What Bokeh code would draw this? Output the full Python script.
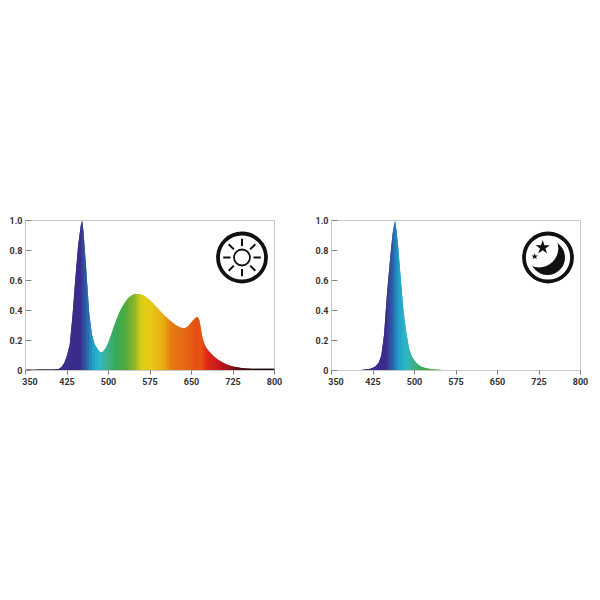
from bokeh.embed import file_html
from bokeh.resources import INLINE
from bokeh.layouts import row
from bokeh.models import FixedTicker, Range1d
from bokeh.plotting import figure
import numpy as np

FONT = "Roboto"

day_nm = [350, 370, 390, 400, 405, 410, 415, 420, 425, 430, 435, 440, 445, 450, 452.5, 455, 460, 465, 470, 475,
          480, 485, 490, 495, 500, 505, 510, 515, 520, 525, 530, 535, 540, 545, 550, 555, 560, 565, 570, 575,
          580, 585, 590, 595, 600, 605, 610, 615, 620, 625, 630, 635, 640, 645, 650, 655, 660, 662, 664, 666,
          668, 670, 673, 676, 680, 685, 690, 695, 700, 705, 710, 715, 720, 725, 730, 735, 740, 750, 760, 780, 800]
day_val = [.007, .007, .007, .007, .008, .010, .024, .05, .10, .175, .37, .61, .83, .97, 1.0, .92, .66, .39, .24, .175,
           .145, .12, .125, .15, .19, .24, .295, .345, .39, .425, .455, .48, .497, .506, .51, .51, .505, .496, .483, .468,
           .45, .43, .41, .39, .37, .353, .337, .322, .307, .295, .287, .282, .285, .30, .322, .344, .356, .352, .335, .30,
           .255, .215, .18, .155, .135, .115, .095, .08, .067, .056, .047, .038, .032, .027, .023, .02, .017, .014, .012, .012, .012]

night_nm = [350, 380, 400, 410, 420, 425, 430, 435, 440, 445, 450, 455, 460, 462.5, 465, 467.5, 470, 475, 480, 485,
            490, 495, 500, 505, 510, 515, 520, 530, 540, 550, 570, 600, 800]
night_val = [0, 0, .002, .006, .012, .018, .03, .05, .10, .24, .50, .71, .90, .96, 1.0, .93, .85, .62, .40, .26,
             .15, .095, .065, .045, .03, .022, .016, .009, .006, .004, .003, .001, 0]

color_nm = [350, 400, 415, 430, 447, 460, 471, 484, 498, 514, 530, 547, 559, 577, 601, 613, 637, 661, 667, 677, 697, 716, 734, 770, 800]
color_hex = ["#2a0a24", "#2a1a50", "#38308e", "#3a2f8e", "#3b2a8a", "#2a5fa8", "#1f9fc8", "#2fb8c8", "#3fb08a", "#3aaa55",
             "#4cab3f", "#8fb52a", "#dccf15", "#e6c915", "#e8a810", "#e57c12", "#e66a14", "#e64c15", "#e65512", "#e02a18",
             "#c81a1c", "#a01518", "#5a1012", "#1f0a10", "#1a0a10"]

x_ticks = [350, 425, 500, 575, 650, 725, 800]
x_labels = {350: "\u00a0\u00a0\u00a0\u00a0350"}
y_ticks = [0.2, 0.4, 0.6, 0.8, 1.0, 0]
y_labels = {0: "0", 0.2: "0.2", 0.4: "0.4", 0.6: "0.6", 0.8: "0.8", 1.0: "1.0"}
X_MIN, X_MAX = 350, 800
FRAME_W, FRAME_H = 249, 150


def spectrum_color(nm):
    rgb = np.array([[int(h[i:i + 2], 16) for i in (1, 3, 5)] for h in color_hex], dtype=float)
    c = [np.interp(nm, color_nm, rgb[:, k]) for k in range(3)]
    return "#%02x%02x%02x" % tuple(int(round(v)) for v in c)


def panel(nm, val, left, right):
    p = figure(frame_width=FRAME_W, frame_height=FRAME_H, output_backend="svg", toolbar_location=None,
               x_range=Range1d(X_MIN, X_MAX), y_range=Range1d(0, 1),
               min_border_left=left, min_border_right=right, min_border_top=220, min_border_bottom=24,
               background_fill_color="white", border_fill_color="white",
               outline_line_color="#c9c9c9", outline_line_width=1)
    p.grid.visible = False
    xs, ys, cols = [], [], []
    for i in range(len(nm) - 1):
        j = min(i + 3, len(nm))
        xs.append([nm[i]] + list(nm[i:j]) + [nm[j - 1]])
        ys.append([0] + list(val[i:j]) + [0])
        cols.append(spectrum_color((nm[i] + nm[i + 1]) / 2))
    p.patches(xs, ys, fill_color=cols, line_color=None)

    ax = p.xaxis[0]
    ax.ticker = FixedTicker(ticks=x_ticks)
    ax.major_label_overrides = x_labels
    ax.axis_line_color = "#c9c9c9"
    ax.major_tick_line_color = "#777777"
    ax.major_tick_in, ax.major_tick_out = 0, 4
    ax.minor_tick_line_color = None
    ax.major_label_standoff = 2
    ay = p.yaxis[0]
    ay.ticker = FixedTicker(ticks=y_ticks)
    ay.major_label_overrides = y_labels
    ay.axis_line_color = "#c9c9c9"
    ay.major_tick_line_color = "#888888"
    ay.major_tick_in, ay.major_tick_out = 6, 0
    ay.minor_tick_line_color = None
    ay.major_label_standoff = 3
    for a in (ax, ay):
        a.major_label_text_font = FONT
        a.major_label_text_font_style = "bold"
        a.major_label_text_font_size = "9px"
        a.major_label_text_color = "#333333"
    return p


def to_data(cx, cy, dx, dy):
    """Screen-pixel offset from an icon centre (in pixels inside the frame) to data units."""
    return (X_MIN + (cx + dx) * (X_MAX - X_MIN) / FRAME_W, (FRAME_H - cy - dy) / FRAME_H)


def ring(p, cx, cy, diam, width):
    x, y = to_data(cx, cy, 0, 0)
    p.scatter([x], [y], size=diam, marker="circle", fill_color=None, line_color="#111111", line_width=width)


day = panel(day_nm, day_val, 25, 25)
night = panel(night_nm, night_val, 32, 11)

# sun icon
SUN = (216.5, 37)
ring(day, *SUN, 48, 3.8)
ring(day, *SUN, 16, 1.8)
x0, y0, x1, y1 = [], [], [], []
for k in range(8):
    a = k * np.pi / 4
    xa, ya = to_data(*SUN, 11.5 * np.cos(a), 11.5 * np.sin(a))
    xb, yb = to_data(*SUN, 18.8 * np.cos(a), 18.8 * np.sin(a))
    x0.append(xa); y0.append(ya); x1.append(xb); y1.append(yb)
day.segment(x0, y0, x1, y1, line_color="#111111", line_width=2)

# moon icon
MOON = (216.5, 37)
mx, my = to_data(*MOON, -0.5, 0)
night.scatter([mx], [my], size=35, marker="circle", fill_color="#111111", line_color=None)
wx, wy = to_data(*MOON, -9, -9.3)
night.scatter([wx], [wy], size=38.6, marker="circle", fill_color="white", line_color=None)
ring(night, *MOON, 48, 3.8)
sx, sy = to_data(*MOON, -5.3, -10)
night.scatter([sx], [sy], size=15, marker="star", fill_color="#111111", line_color=None)
tx, ty = to_data(*MOON, -13.3, -1)
night.scatter([tx], [ty], size=7, marker="star", fill_color="#111111", line_color=None)

page = row(day, night, spacing=0)
open("out.html", "w").write(file_html(page, INLINE))
